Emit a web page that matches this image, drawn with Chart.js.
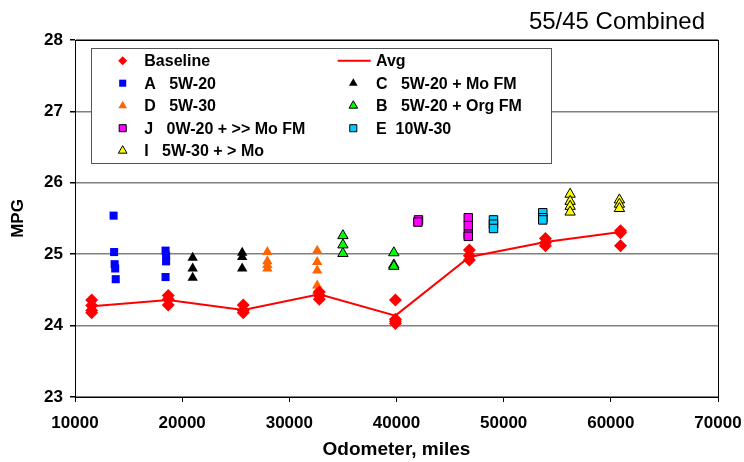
<!DOCTYPE html>
<html>
<head>
<meta charset="utf-8">
<title>55/45 Combined</title>
<script src="https://cdn.jsdelivr.net/npm/chart.js@4.4.0/dist/chart.umd.min.js"></script>
<style>
  html, body { margin: 0; padding: 0; background: #ffffff; }
  canvas { display: block; }
</style>
</head>
<body>
<canvas id="chart" width="744" height="462"></canvas>
<script>
// ---- data -------------------------------------------------------------
const chartTitle = '55/45 Combined';
const xTitle = 'Odometer, miles';
const yTitle = 'MPG';
const xRange = [10000, 70000];
const yRange = [23, 28];

const baselineName = 'Baseline';
const baselineMiles = [11560, 11560, 11560, 11560, 18700, 18700, 18700, 25700, 25700, 25700,
                       32800, 32800, 32800, 39900, 39900, 39900, 39900, 46800, 46800, 46800,
                       53900, 53900, 53900, 60900, 60900, 60900];
const baselineMpg   = [24.36, 24.28, 24.21, 24.18, 24.42, 24.37, 24.29, 24.29, 24.21, 24.18,
                       24.47, 24.42, 24.37, 24.36, 24.09, 24.06, 24.03, 25.06, 24.98, 24.92,
                       25.22, 25.16, 25.12, 25.33, 25.30, 25.12];

const avgName = 'Avg';
const avgMiles = [11560, 18700, 25700, 32800, 39900, 46800, 53900, 60900];
const avgMpg   = [24.27, 24.36, 24.22, 24.44, 24.14, 24.96, 25.17, 25.31];

const oilAName = 'A   5W-20';
const oilAMiles = [13600, 13650, 13700, 13750, 13800, 18450, 18500, 18500, 18450];
const oilAMpg   = [25.54, 25.03, 24.86, 24.80, 24.65, 25.05, 24.98, 24.90, 24.68];

const oilCName = 'C   5W-20 + Mo FM';
const oilCMiles = [20980, 20980, 20980, 25600, 25600, 25600];
const oilCMpg   = [24.95, 24.80, 24.67, 25.02, 24.96, 24.80];

const oilDName = 'D   5W-30';
const oilDMiles = [27950, 27950, 27950, 27950, 32600, 32600, 32600, 32600, 32600];
const oilDMpg   = [25.03, 24.90, 24.85, 24.80, 25.05, 24.89, 24.77, 24.56, 24.48];

const oilBName = 'B   5W-20 + Org FM';
const oilBMiles = [35000, 35000, 35000, 39750, 39750, 39750];
const oilBMpg   = [25.26, 25.13, 25.01, 25.02, 24.85, 24.83];

const oilJName = 'J   0W-20 + >> Mo FM';
const oilJMiles = [42050, 42000, 46700, 46700, 46700, 46700];
const oilJMpg   = [25.48, 25.45, 25.51, 25.40, 25.28, 25.25];

const oilEName = 'E  10W-30';
const oilEMiles = [49050, 49050, 49050, 53650, 53650, 53650];
const oilEMpg   = [25.48, 25.42, 25.36, 25.58, 25.51, 25.48];

const oilIName = 'I   5W-30 + > Mo';
const oilIMiles = [56200, 56200, 56200, 56200, 60800, 60800, 60800];
const oilIMpg   = [25.84, 25.74, 25.67, 25.59, 25.76, 25.70, 25.64];

// ---- helpers ------------------------------------------------------------
const FONT = "'Liberation Sans', Arial, Helvetica, sans-serif";
const points = (xs, ys) => xs.map((x, i) => ({ x: x, y: ys[i] }));

function markerSeries(label, xs, ys, style) {
  return {
    label: label,
    data: points(xs, ys),
    showLine: false,
    pointStyle: style.shape,
    pointRadius: style.radius,
    pointHoverRadius: style.radius,
    backgroundColor: style.fill,
    borderColor: style.edge || style.fill,
    pointBorderWidth: style.edge ? 1 : 0,
    legendRadius: style.legendRadius
  };
}

const datasets = [
  markerSeries(baselineName, baselineMiles, baselineMpg, { shape: 'rectRot', radius: 6.5, fill: '#ff0000', legendRadius: 4.5 }),
  {
    label: avgName,
    data: points(avgMiles, avgMpg),
    showLine: true,
    borderColor: '#ff0000',
    borderWidth: 2,
    pointRadius: 0,
    pointHoverRadius: 0,
    fill: false
  },
  markerSeries(oilAName, oilAMiles, oilAMpg, { shape: 'rect', radius: 5.7, fill: '#0000ff', legendRadius: 5 }),
  markerSeries(oilCName, oilCMiles, oilCMpg, { shape: 'triangle', radius: 6, fill: '#000000', legendRadius: 5 }),
  markerSeries(oilDName, oilDMiles, oilDMpg, { shape: 'triangle', radius: 6, fill: '#ff6600', legendRadius: 5 }),
  markerSeries(oilBName, oilBMiles, oilBMpg, { shape: 'triangle', radius: 6, fill: '#00ff00', edge: '#000000', legendRadius: 5 }),
  markerSeries(oilJName, oilJMiles, oilJMpg, { shape: 'rect', radius: 6, fill: '#ff00ff', edge: '#000000', legendRadius: 5 }),
  markerSeries(oilEName, oilEMiles, oilEMpg, { shape: 'rect', radius: 6, fill: '#00ccff', edge: '#000000', legendRadius: 5 }),
  markerSeries(oilIName, oilIMiles, oilIMpg, { shape: 'triangle', radius: 6, fill: '#ffff00', edge: '#000000', legendRadius: 5 })
];

// ---- plugins ------------------------------------------------------------
// black frame around the plotting area
const plotFrame = {
  id: 'plotFrame',
  beforeDatasetsDraw(chart) {
    const { ctx, chartArea: a } = chart;
    ctx.save();
    ctx.strokeStyle = '#000000';
    ctx.lineWidth = 1;
    ctx.strokeRect(Math.round(a.left) + 0.5, Math.round(a.top) + 0.5,
                   Math.round(a.right - a.left), Math.round(a.bottom - a.top));
    ctx.restore();
  }
};

// heading at the top right
const cornerTitle = {
  id: 'cornerTitle',
  afterDraw(chart) {
    const ctx = chart.ctx;
    ctx.save();
    ctx.font = '24px ' + FONT;
    ctx.fillStyle = '#000000';
    ctx.textAlign = 'right';
    ctx.textBaseline = 'alphabetic';
    ctx.fillText(chartTitle, 705, 29);
    ctx.restore();
  }
};

// two-column boxed legend inside the plot
const boxedLegend = {
  id: 'boxedLegend',
  afterDraw(chart) {
    const ctx = chart.ctx;
    const box = { x: 91.5, y: 48.5, w: 460, h: 115 };
    ctx.save();
    ctx.fillStyle = '#ffffff';
    ctx.fillRect(box.x, box.y, box.w, box.h);
    ctx.strokeStyle = '#555555';
    ctx.lineWidth = 1;
    ctx.strokeRect(box.x, box.y, box.w, box.h);

    ctx.font = 'bold 16px ' + FONT;
    ctx.textAlign = 'left';
    ctx.textBaseline = 'middle';
    chart.data.datasets.forEach((ds, i) => {
      const col = i % 2;
      const row = Math.floor(i / 2);
      const y = 60.7 + row * 22.5;
      const mx = col ? 353.3 : 122.7;
      const tx = col ? 376 : 144.3;
      if (ds.showLine) {
        ctx.strokeStyle = ds.borderColor;
        ctx.lineWidth = 2;
        ctx.beginPath();
        ctx.moveTo(337.7, y);
        ctx.lineTo(370.7, y);
        ctx.stroke();
      } else {
        ctx.fillStyle = ds.backgroundColor;
        ctx.strokeStyle = ds.borderColor;
        ctx.lineWidth = ds.pointBorderWidth;
        Chart.helpers.drawPoint(ctx, {
          pointStyle: ds.pointStyle,
          radius: ds.legendRadius,
          borderWidth: ds.pointBorderWidth,
          rotation: 0
        }, mx, y);
      }
      ctx.fillStyle = '#000000';
      ctx.fillText(ds.label, tx, y + 1);
    });
    ctx.restore();
  }
};

// ---- chart --------------------------------------------------------------
new Chart(document.getElementById('chart'), {
  type: 'scatter',
  data: { datasets: datasets },
  options: {
    responsive: false,
    animation: false,
    events: [],
    layout: { padding: { left: 0, top: 40, right: 26, bottom: 0 } },
    scales: {
      x: {
        type: 'linear',
        min: xRange[0],
        max: xRange[1],
        afterFit: (s) => { s.height = 65; s.paddingLeft = 0; s.paddingRight = 0; },
        ticks: {
          stepSize: 10000,
          color: '#000000',
          padding: 11,
          maxRotation: 0,
          font: { family: FONT, size: 17, weight: 'bold' },
          callback: (v) => String(v)
        },
        grid: { drawOnChartArea: false, drawTicks: true, tickLength: 5, tickColor: '#000000' },
        border: { display: true, color: '#000000', width: 1 },
        title: {
          display: true,
          text: xTitle,
          color: '#000000',
          font: { family: FONT, size: 19, weight: 'bold' },
          padding: { top: 0, bottom: 1 }
        }
      },
      y: {
        type: 'linear',
        min: yRange[0],
        max: yRange[1],
        afterFit: (s) => { s.width = 75; s.paddingTop = 0; s.paddingBottom = 0; },
        ticks: {
          stepSize: 1,
          color: '#000000',
          padding: 7,
          font: { family: FONT, size: 17, weight: 'bold' },
          callback: (v) => String(v)
        },
        grid: { color: '#808080', lineWidth: 1.5, drawTicks: true, tickLength: 5, tickColor: '#000000' },
        border: { display: true, color: '#000000', width: 1 },
        title: {
          display: true,
          text: yTitle,
          color: '#000000',
          font: { family: FONT, size: 17, weight: 'bold' },
          padding: { top: 8, bottom: 0 }
        }
      }
    },
    plugins: {
      legend: { display: false },
      tooltip: { enabled: false },
      title: { display: false }
    }
  },
  plugins: [plotFrame, boxedLegend, cornerTitle]
});
</script>
</body>
</html>
